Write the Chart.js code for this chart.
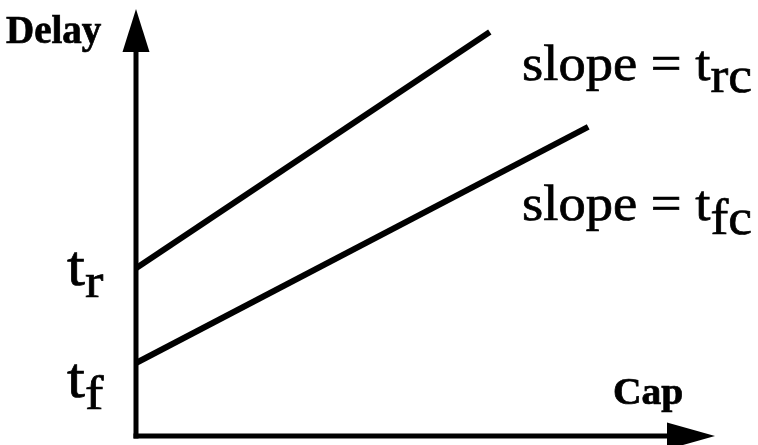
<!DOCTYPE html>
<html>
<head>
<meta charset="utf-8">
<script src="https://cdn.jsdelivr.net/npm/chart.js@4.4.0/dist/chart.umd.min.js"></script>
<style>
  html, body { margin: 0; padding: 0; background: #fff; }
  #chart { display: block; }
</style>
</head>
<body>
<canvas id="chart" width="758" height="445"></canvas>
<script>
// Data (axis units 0..100, schematic)
const capRise = [0, 61.1];
const delayRise = [39.3, 94.6];
const capFall = [0, 78.1];
const delayFall = [17.1, 72.4];

// Intercept tick labels on the Delay axis
const tickValues = [39.3, 17.1];
const tickMain = ['t', 't'];
const tickSub = ['r', 'f'];

// Slope annotations
const slopeMain = ['slope = t', 'slope = t'];
const slopeSub = ['rc', 'fc'];

const xTitle = 'Cap';
const yTitle = 'Delay';

const SERIF = "'Liberation Serif', 'Times New Roman', serif";

// text with a horizontal stretch, slightly stroked to match the heavy print
function drawText(ctx, text, x, y, font, sx) {
  ctx.save();
  ctx.translate(x, y);
  ctx.scale(sx, 1);
  ctx.font = font;
  ctx.fillText(text, 0, 0);
  ctx.lineWidth = 0.7;
  ctx.strokeText(text, 0, 0);
  const w = ctx.measureText(text).width * sx;
  ctx.restore();
  return w;
}

function drawSubText(ctx, main, sub, x, y, size, subSize, subDy, sx) {
  const w = drawText(ctx, main, x, y, size + 'px ' + SERIF, sx);
  drawText(ctx, sub, x + w, y + subDy, subSize + 'px ' + SERIF, sx);
}

// Axes with arrow heads + text labels
const sketchPlugin = {
  id: 'sketch',
  afterDraw(chart) {
    const ctx = chart.ctx;
    const xs = chart.scales.x;
    const ys = chart.scales.y;
    const x0 = xs.getPixelForValue(0);
    const y0 = ys.getPixelForValue(0);
    const xEnd = xs.getPixelForValue(xs.max);
    const yEnd = ys.getPixelForValue(ys.max);

    ctx.save();
    ctx.strokeStyle = '#000';
    ctx.fillStyle = '#000';
    ctx.lineWidth = 5;
    ctx.lineCap = 'butt';

    // y axis
    ctx.beginPath();
    ctx.moveTo(x0, y0 + 2.5);
    ctx.lineTo(x0, yEnd + 40);
    ctx.stroke();
    ctx.beginPath();
    ctx.moveTo(x0, yEnd);
    ctx.lineTo(x0 - 13.5, yEnd + 43);
    ctx.lineTo(x0 + 13.5, yEnd + 43);
    ctx.closePath();
    ctx.fill();

    // x axis
    ctx.beginPath();
    ctx.moveTo(x0 - 2.5, y0);
    ctx.lineTo(xEnd - 44, y0);
    ctx.stroke();
    ctx.beginPath();
    ctx.moveTo(xEnd, y0);
    ctx.lineTo(xEnd - 48, y0 - 13.5);
    ctx.lineTo(xEnd - 48, y0 + 13.5);
    ctx.closePath();
    ctx.fill();

    // axis titles
    ctx.textBaseline = 'alphabetic';
    ctx.textAlign = 'left';
    drawText(ctx, yTitle, 6, 43, 'bold 39px ' + SERIF, 1.0);
    drawText(ctx, xTitle, 613, 404, 'bold 38px ' + SERIF, 1.04);

    // intercept labels
    const tickDy = [17, 34];
    tickValues.forEach(function (v, i) {
      const py = ys.getPixelForValue(v);
      drawSubText(ctx, tickMain[i], tickSub[i], 67, py + tickDy[i], 56, 48, 12, 1.15);
    });

    // slope labels
    drawSubText(ctx, slopeMain[0], slopeSub[0], 522, 80, 51, 50, 12, 1.07);
    drawSubText(ctx, slopeMain[1], slopeSub[1], 522, 220, 51, 50, 14, 1.07);

    ctx.restore();
  }
};

const ctx = document.getElementById('chart').getContext('2d');
new Chart(ctx, {
  type: 'scatter',
  data: {
    datasets: [{
      label: 'Rise',
      data: capRise.map(function (c, i) { return { x: c, y: delayRise[i] }; }),
      showLine: true,
      borderColor: '#000',
      borderWidth: 6,
      pointRadius: 0,
      clip: false
    }, {
      label: 'Fall',
      data: capFall.map(function (c, i) { return { x: c, y: delayFall[i] }; }),
      showLine: true,
      borderColor: '#000',
      borderWidth: 6,
      pointRadius: 0,
      clip: false
    }]
  },
  options: {
    responsive: false,
    animation: false,
    layout: {
      padding: { left: 136, right: 43, top: 9, bottom: 9 }
    },
    plugins: {
      legend: { display: false },
      tooltip: { enabled: false }
    },
    scales: {
      x: { type: 'linear', min: 0, max: 100, display: false },
      y: { type: 'linear', min: 0, max: 100, display: false }
    }
  },
  plugins: [sketchPlugin]
});
</script>
</body>
</html>
